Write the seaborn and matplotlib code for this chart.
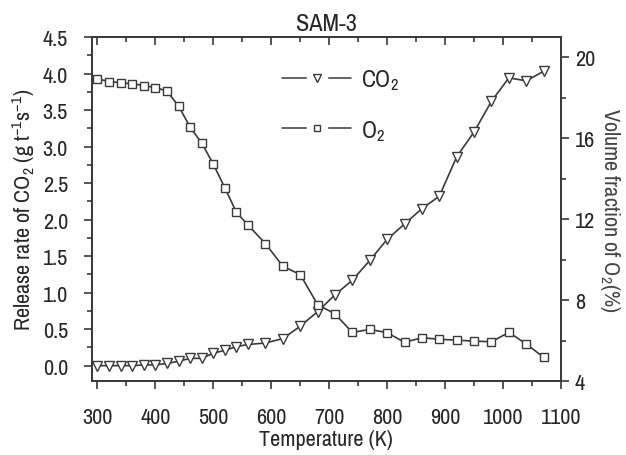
import numpy as np
import pandas as pd
import seaborn as sns
import matplotlib
matplotlib.use('Agg')
import matplotlib.pyplot as plt
from matplotlib import font_manager as fm
from matplotlib.lines import Line2D
from matplotlib.legend_handler import HandlerTuple
from matplotlib.ticker import MultipleLocator, FormatStrFormatter

# temperatures (K)
temperature = [300, 320, 340, 360, 380, 400, 420, 440, 460, 480, 500, 520, 540, 560,
               590, 620, 650, 680, 710, 740, 770, 800, 830, 860, 890, 920, 950, 980,
               1010, 1040, 1070]
# CO2 release rate (g t-1 s-1), left axis
co2_rate = [0.0, 0.0, 0.0, 0.0, 0.01, 0.01, 0.03, 0.06, 0.10, 0.10, 0.17, 0.21, 0.26, 0.29,
            0.31, 0.37, 0.54, 0.74, 0.97, 1.17, 1.44, 1.73, 1.94, 2.15, 2.32, 2.86, 3.20,
            3.62, 3.94, 3.90, 4.03]
# O2 volume fraction (%), right axis
o2_frac = [18.93, 18.80, 18.74, 18.69, 18.60, 18.50, 18.33, 17.59, 16.55, 15.76, 14.72,
           13.54, 12.33, 11.70, 10.79, 9.67, 9.26, 7.78, 7.31, 6.40, 6.55, 6.39, 5.91,
           6.14, 6.06, 6.02, 5.97, 5.94, 6.40, 5.83, 5.17]

df = pd.DataFrame({'T': temperature, 'CO2': co2_rate, 'O2': o2_frac})

sns.set_style('ticks')

# pick a narrow grotesque if there is one
installed = set(f.name for f in fm.fontManager.ttflist)
wanted = ['Arial Narrow', 'Liberation Sans Narrow', 'Archivo Narrow', 'PT Sans Narrow',
          'Roboto Condensed', 'Pragati Narrow', 'Liberation Sans']
font = [f for f in wanted if f in installed][0]
plt.rcParams['font.family'] = [font, 'DejaVu Sans']
plt.rcParams['mathtext.fontset'] = 'custom'
plt.rcParams['mathtext.rm'] = font
plt.rcParams['mathtext.it'] = font + ':italic'

ink = '#3a3a3a'
fig = plt.figure(figsize=(6.26, 4.56), dpi=100)
ax = fig.add_axes([0.1463, 0.1623, 0.7499, 0.7544])
ax2 = ax.twinx()

sns.lineplot(data=df, x='T', y='CO2', ax=ax, color=ink, lw=1.2, marker='v', markersize=7.5,
             markerfacecolor='white', markeredgecolor=ink, markeredgewidth=1.0)
sns.lineplot(data=df, x='T', y='O2', ax=ax2, color=ink, lw=1.2, marker='s', markersize=6.3,
             markerfacecolor='white', markeredgecolor=ink, markeredgewidth=1.0)

ax.set_xlim(290, 1100)
ax.set_ylim(-0.21, 4.5)
ax2.set_ylim(4, 21)

ax.xaxis.set_major_locator(MultipleLocator(100))
ax.xaxis.set_minor_locator(MultipleLocator(50))
ax.yaxis.set_major_locator(MultipleLocator(0.5))
ax.yaxis.set_minor_locator(MultipleLocator(0.25))
ax2.yaxis.set_major_locator(MultipleLocator(4))
ax2.yaxis.set_minor_locator(MultipleLocator(2))
ax.yaxis.set_major_formatter(FormatStrFormatter('%.1f'))

for a in (ax, ax2):
    for s in a.spines.values():
        s.set_color(ink)
        s.set_linewidth(1.3)

fs = 16
ax.tick_params(axis='both', which='major', length=6, width=1.2, color=ink, labelsize=fs)
ax.tick_params(axis='both', which='minor', length=3.5, width=1.2, color=ink)
ax.tick_params(axis='x', which='both', pad=13)
ax.tick_params(axis='y', which='both', pad=11)
ax.tick_params(axis='x', which='both', top=True, direction='out')
ax2.tick_params(axis='y', which='major', length=6, width=1.2, color=ink, labelsize=fs, pad=4)
ax2.tick_params(axis='y', which='minor', length=3.5, width=1.2, color=ink)
# top ticks point inward
for t in ax.xaxis.get_major_ticks() + ax.xaxis.get_minor_ticks():
    t.tick2line.set_marker(matplotlib.lines.TICKDOWN)

ax.set_xlabel('Temperature (K)', fontsize=fs, labelpad=1)
ax.set_ylabel('Release rate of CO$_2$ (g t$^{-1}$s$^{-1}$)', fontsize=fs, labelpad=4)
ax2.set_ylabel('Volume fraction of O$_2$(%)', fontsize=fs, rotation=270, labelpad=19,
               color='#444444')
ax.set_title('SAM-3', fontsize=17.5, pad=5)

# legend with broken line around the marker
def make_handle(marker, ms):
    line = Line2D([], [], color=ink, lw=1.1)
    halo = Line2D([], [], ls='none', marker='s', markersize=ms + 9, markerfacecolor='white',
                  markeredgecolor='white')
    mk = Line2D([], [], ls='none', marker=marker, markersize=ms, markerfacecolor='white',
                markeredgecolor=ink, markeredgewidth=1.0)
    return (line, halo, mk)

ax.legend([make_handle('v', 6.0), make_handle('s', 5.0)], ['CO$_2$', 'O$_2$'],
          handler_map={tuple: HandlerTuple(ndivide=1)},
          loc='upper left', bbox_to_anchor=(0.36, 0.975), frameon=False, fontsize=17,
          handlelength=2.95, handletextpad=0.4, labelspacing=1.1)

fig.savefig('out.png', dpi=100)
